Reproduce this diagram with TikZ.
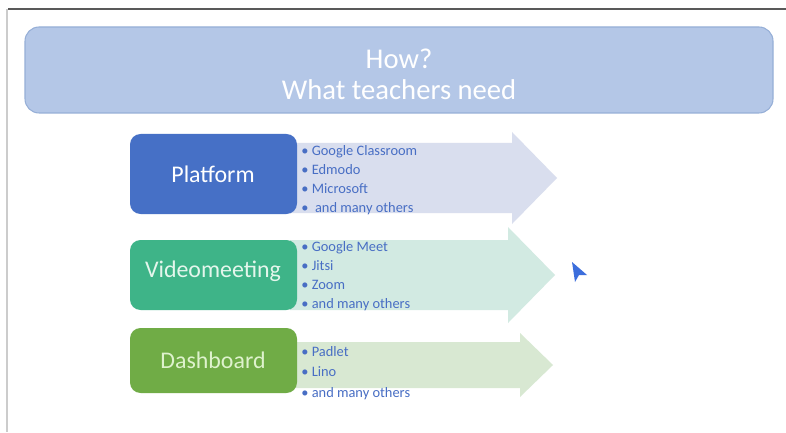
\documentclass[tikz,border=0pt]{standalone}
\usepackage{fontspec}
\setmainfont{Carlito}

\definecolor{titleFill}{RGB}{180,199,231}
\definecolor{titleLine}{RGB}{150,175,215}
\definecolor{platBlue}{RGB}{70,112,198}
\definecolor{videoGreen}{RGB}{62,180,136}
\definecolor{dashGreen}{RGB}{112,172,70}
\definecolor{platArrow}{RGB}{217,222,238}
\definecolor{videoArrow}{RGB}{210,234,226}
\definecolor{dashArrow}{RGB}{216,232,210}
\definecolor{listBlue}{RGB}{72,110,196}
\definecolor{cursorBlue}{RGB}{60,110,220}

\begin{document}
\begin{tikzpicture}[x=0.02cm,y=-0.02cm,%%
  boxStyle/.style={rounded corners=6pt},
  arrowStyle/.style={draw=none},
  listStyle/.style={anchor=north west,align=left,inner sep=0pt,
    text=listBlue,font=\fontsize{8.2}{10.9}\selectfont},
  labelStyle/.style={font=\fontsize{13.6}{15}\selectfont}
]
%%
\useasboundingbox (0,0) rectangle (786,432);
\fill[white] (0,0) rectangle (786,432);
%% The slide frame.
\draw[line width=1.2pt,black!65] (8,9) -- (786,9);
\draw[line width=0.6pt,black!20] (7,9) -- (7,432);
%%
%% Title banner.
\path[boxStyle,rounded corners=8pt,fill=titleFill,draw=titleLine,line width=0.6pt]
  (25,27) rectangle (773,113);
\node (title) at (399,74) [align=center,text=white,
  font=\fontsize{16.3}{17.6}\selectfont] {How?\\What teachers need};
%%
%% The three arrows.
\path[arrowStyle,fill=platArrow] (290,143) -- (512,143) -- (512,132) -- (557,178)
  -- (512,224) -- (512,213) -- (290,213) -- cycle;
\path[arrowStyle,fill=videoArrow] (290,240) -- (508,240) -- (508,227) -- (555,275)
  -- (508,323) -- (508,310) -- (290,310) -- cycle;
\path[arrowStyle,fill=dashArrow] (290,342) -- (520,342) -- (520,333) -- (553,365)
  -- (520,397) -- (520,388) -- (290,388) -- cycle;
%%
%% The three boxes.
\path[boxStyle,fill=platBlue] (130,134) rectangle (297,214);
\path[boxStyle,fill=videoGreen] (130,240) rectangle (297,310);
\path[boxStyle,fill=dashGreen] (130,328) rectangle (297,393);
\node (platform) at (213,174) [labelStyle,text=white] {Platform};
\node (video) at (213,271) [labelStyle,text={rgb,255:red,228;green,246;blue,236}] {Videomeeting};
\node (dash) at (213,360) [labelStyle,text={rgb,255:red,222;green,242;blue,205}] {Dashboard};
%%
%% The lists.
\node (platList) at (301,145) [listStyle]
  {• Google Classroom\\• Edmodo\\• Microsoft\\•\ \ and many others};
\node (videoList) at (301,241) [listStyle]
  {• Google Meet\\• Jitsi\\• Zoom\\• and many others};
\node (dashList) at (301,346) [listStyle,font=\fontsize{8.2}{11.6}\selectfont]
  {• Padlet\\• Lino\\• and many others};
%%
%% Mouse pointer.
\fill[cursorBlue] (572,262) -- (587,275) -- (579,275) -- (575,282) -- cycle;
\end{tikzpicture}
\end{document}
